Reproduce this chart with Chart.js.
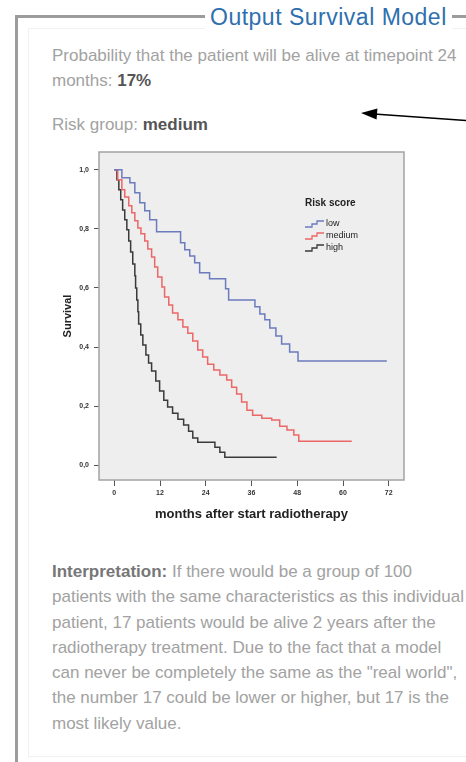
<!DOCTYPE html>
<html>
<head>
<meta charset="utf-8">
<title>Output Survival Model</title>
<script src="https://cdn.jsdelivr.net/npm/chart.js@4.4.1/dist/chart.umd.min.js"></script>
<style>
  html, body { margin: 0; padding: 0; background: #fff; overflow: hidden; }
  body { width: 466px; height: 762px; position: relative; font-family: "Liberation Sans", Arial, sans-serif; }
  .frame { position: absolute; left: 15px; top: 15px; width: 600px; height: 800px; border: 3px solid #9c9c9c; box-sizing: border-box; }
  .inner { position: absolute; left: 28px; top: 28px; width: 600px; height: 727px; border: 1px solid #f1f1f1; }
  .legend { position: absolute; left: 205px; top: 3px; padding: 0 5px; background: #fff; color: #2f6fae;
            font-size: 23px; letter-spacing: .5px; line-height: 28px; white-space: nowrap; }
  .txt { position: absolute; left: 52px; color: #a2a2a2; font-size: 17px; line-height: 25.3px; white-space: nowrap; }
  .txt b { color: #555; }
  #arrow { position: absolute; left: 0; top: 0; pointer-events: none; }
  #survivalChart { position: absolute; left: 40px; top: 140px; }
</style>
</head>
<body>
<div class="frame"></div>
<div class="inner"></div>
<div class="legend">Output Survival Model</div>

<div class="txt" style="top:43px">Probability that the patient will be alive at timepoint 24<br>months: <b>17%</b></div>
<div class="txt" style="top:112px">Risk group: <b>medium</b></div>

<canvas id="survivalChart" width="380" height="400"></canvas>

<div class="txt" style="top:559px"><b style="color:#777">Interpretation:</b> If there would be a group of 100<br>patients with the same characteristics as this individual<br>patient, 17 patients would be alive 2 years after the<br>radiotherapy treatment. Due to the fact that a model<br>can never be completely the same as the "real world",<br>the number 17 could be lower or higher, but 17 is the<br>most likely value.</div>

<svg id="arrow" width="466" height="762">
  <line x1="466" y1="120.5" x2="374" y2="114" stroke="#000" stroke-width="1.6"/>
  <polygon points="361,113 377.4,108.4 376.6,119.6" fill="#000"/>
</svg>

<script>
// Kaplan-Meier curves per risk group (months, survival proportion)
const lowMonths = [0, 2.0, 4.1, 5.4, 6.7, 8.0, 9.3, 11.1, 17.4, 18.5, 19.8, 21.1, 22.4, 25.0, 29.2, 30.0,
  36.9, 38.2, 39.5, 40.8, 42.4, 43.9, 46.0, 48.2, 71.5];
const lowSurvival = [1.0, 0.973, 0.956, 0.922, 0.888, 0.861, 0.831, 0.790, 0.753, 0.729, 0.708, 0.685, 0.651, 0.631, 0.597, 0.559,
  0.536, 0.512, 0.492, 0.464, 0.437, 0.410, 0.383, 0.353, 0.353];

const mediumMonths = [0, 0.9, 2.0, 2.75, 3.8, 4.6, 5.4, 6.2, 7.0, 8.0, 8.8, 9.8, 10.6, 11.4, 12.5, 13.2, 14.3, 15.3,
  16.7, 18.0, 19.3, 20.6, 21.9, 23.2, 24.5, 26.1, 27.7, 29.5, 30.8, 32.1, 33.4, 34.8, 36.3, 38.7, 41.3,
  43.4, 45.3, 47.1, 48.4, 62.3];
const mediumSurvival = [1.0, 0.966, 0.932, 0.908, 0.878, 0.854, 0.827, 0.803, 0.783, 0.759, 0.732, 0.705, 0.671, 0.637, 0.603, 0.569, 0.542, 0.515,
  0.492, 0.468, 0.447, 0.420, 0.390, 0.366, 0.342, 0.322, 0.305, 0.288, 0.264, 0.241, 0.214, 0.186, 0.169, 0.159, 0.153,
  0.132, 0.119, 0.102, 0.081, 0.081];

const highMonths = [0, 0.7, 1.2, 1.7, 2.2, 2.75, 3.3, 3.8, 4.3, 4.85, 5.4, 5.6, 5.9, 6.2, 6.4, 6.95, 7.5, 8.3, 9.0,
  9.8, 10.9, 11.9, 13.0, 14.0, 15.3, 16.7, 18.2, 19.5, 20.6, 21.9, 26.4, 27.7, 29.0, 42.6];
const highSurvival = [1.0, 0.966, 0.932, 0.898, 0.864, 0.831, 0.797, 0.759, 0.722, 0.681, 0.641, 0.600, 0.559, 0.519, 0.478, 0.441, 0.407, 0.373, 0.346,
  0.319, 0.285, 0.251, 0.220, 0.197, 0.176, 0.156, 0.136, 0.115, 0.092, 0.078, 0.061, 0.044, 0.027, 0.027];

const riskGroups = ['low', 'medium', 'high'];
const xTickValues = [0, 12, 24, 36, 48, 60, 72];
const yTickValues = [0, 0.2, 0.4, 0.6, 0.8, 1.0];
const yTickLabels = ['0,0', '0,2', '0,4', '0,6', '0,8', '1,0'];

const toPoints = (xs, ys) => xs.map((x, i) => ({x: x, y: ys[i]}));

// grey plot panel with a thin frame, SPSS style
const plotFrame = {
  id: 'plotFrame',
  beforeDatasetsDraw(chart) {
    const {ctx, chartArea: a} = chart;
    ctx.save();
    ctx.fillStyle = '#eeeeee';
    ctx.fillRect(a.left, a.top, a.right - a.left, a.bottom - a.top);
    ctx.restore();
  },
  afterDatasetsDraw(chart) {
    const {ctx, chartArea: a} = chart;
    ctx.save();
    ctx.strokeStyle = '#a3a3a3';
    ctx.lineWidth = 1.5;
    ctx.strokeRect(a.left, a.top, a.right - a.left, a.bottom - a.top);
    ctx.restore();
  }
};

// legend box inside the plot, with small step-line symbols
const riskLegend = {
  id: 'riskLegend',
  afterDraw(chart) {
    const ctx = chart.ctx;
    const x0 = 265, y0 = 63;
    ctx.save();
    ctx.fillStyle = '#222';
    ctx.textBaseline = 'middle';
    ctx.font = 'bold 10px "Liberation Sans", Arial, sans-serif';
    ctx.fillText('Risk score', x0, y0);
    ctx.font = '9px "Liberation Sans", Arial, sans-serif';
    chart.data.datasets.forEach((ds, i) => {
      const y = y0 + 21 + i * 12;
      ctx.strokeStyle = ds.borderColor;
      ctx.lineWidth = 1.3;
      ctx.beginPath();
      ctx.moveTo(x0, y + 3);
      ctx.lineTo(x0 + 7, y + 3);
      ctx.lineTo(x0 + 7, y);
      ctx.lineTo(x0 + 12, y);
      ctx.lineTo(x0 + 12, y - 3);
      ctx.lineTo(x0 + 19, y - 3);
      ctx.stroke();
      ctx.fillStyle = '#222';
      ctx.fillText(ds.label, x0 + 21, y);
    });
    ctx.restore();
  }
};

const curveStyle = {
  stepped: true,
  fill: false,
  borderWidth: 1.5,
  pointRadius: 0
};

new Chart(document.getElementById('survivalChart'), {
  type: 'line',
  data: {
    datasets: [
      Object.assign({label: riskGroups[0], data: toPoints(lowMonths, lowSurvival), borderColor: '#6b7bbd'}, curveStyle),
      Object.assign({label: riskGroups[1], data: toPoints(mediumMonths, mediumSurvival), borderColor: '#ec6767'}, curveStyle),
      Object.assign({label: riskGroups[2], data: toPoints(highMonths, highSurvival), borderColor: '#3a3a3a'}, curveStyle)
    ]
  },
  options: {
    responsive: false,
    animation: false,
    devicePixelRatio: 1,
    layout: {padding: {top: 12, right: 16, left: 0, bottom: 0}},
    plugins: {
      legend: {display: false},
      tooltip: {enabled: false}
    },
    scales: {
      x: {
        type: 'linear',
        min: -4,
        max: 76,
        afterBuildTicks: s => { s.ticks = xTickValues.map(v => ({value: v})); },
        afterFit: s => { s.height = 60; },
        grid: {drawOnChartArea: false, drawTicks: true, tickLength: 6, color: '#555', lineWidth: 1},
        border: {display: false},
        ticks: {
          padding: 3,
          maxRotation: 0,
          color: '#333',
          font: {size: 7, family: '"Liberation Sans", Arial, sans-serif', weight: 'bold'}
        },
        title: {
          display: true,
          text: 'months after start radiotherapy',
          color: '#222',
          font: {size: 13, weight: 'bold', family: '"Liberation Sans", Arial, sans-serif'},
          padding: {top: 0, bottom: 18}
        }
      },
      y: {
        type: 'linear',
        min: -0.05,
        max: 1.06,
        afterBuildTicks: s => { s.ticks = yTickValues.map(v => ({value: v})); },
        afterFit: s => { s.width = 59; },
        grid: {drawOnChartArea: false, drawTicks: true, tickLength: 5, color: '#555', lineWidth: 1},
        border: {display: false},
        ticks: {
          padding: 5,
          color: '#333',
          font: {size: 7, family: '"Liberation Sans", Arial, sans-serif', weight: 'bold'},
          callback: (v) => yTickLabels[yTickValues.indexOf(v)]
        },
        title: {
          display: true,
          text: 'Survival',
          color: '#222',
          font: {size: 11, weight: 'bold', family: '"Liberation Sans", Arial, sans-serif'},
          padding: {top: 21, bottom: 0}
        }
      }
    }
  },
  plugins: [plotFrame, riskLegend]
});
</script>
</body>
</html>
